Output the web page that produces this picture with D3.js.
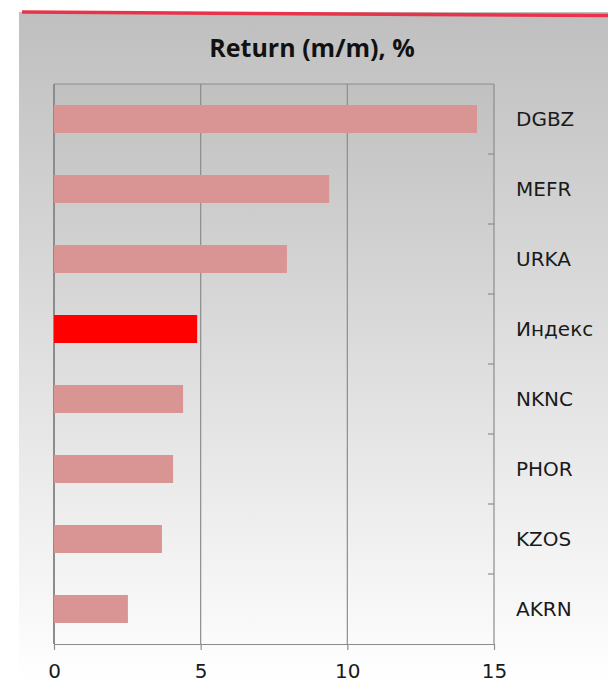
<!DOCTYPE html>
<html>
<head>
<meta charset="utf-8">
<script src="https://cdn.jsdelivr.net/npm/d3@7"></script>
<style>
  html, body { margin: 0; padding: 0; background: #ffffff; }
</style>
</head>
<body>
<div id="chart"></div>
<script>
const categories = ["DGBZ", "MEFR", "URKA", "Индекс", "NKNC", "PHOR", "KZOS", "AKRN"];
const values = [14.42, 9.38, 7.94, 4.88, 4.4, 4.06, 3.68, 2.52];
const highlight = "Индекс";
const xTicks = [0, 5, 10, 15];
const title = "Return (m/m), %";

const width = 608, height = 683;
const margin = {top: 84, right: 114, bottom: 38, left: 54};

const svg = d3.select("#chart").append("svg")
    .attr("width", width)
    .attr("height", height);

const defs = svg.append("defs");
const bg = defs.append("linearGradient")
    .attr("id", "bg-grad")
    .attr("x1", "0%").attr("y1", "0%")
    .attr("x2", "0%").attr("y2", "100%");
bg.append("stop").attr("offset", "0%").attr("stop-color", "#bfbfbf");
bg.append("stop").attr("offset", "100%").attr("stop-color", "#ffffff");

const plotGrad = defs.append("linearGradient")
    .attr("id", "plot-grad")
    .attr("x1", "0%").attr("y1", "0%")
    .attr("x2", "0%").attr("y2", "100%");
plotGrad.append("stop").attr("offset", "0%").attr("stop-color", "#c0c0c0");
plotGrad.append("stop").attr("offset", "100%").attr("stop-color", "#fbfbfb");

// chart background
svg.append("rect")
    .attr("x", 19).attr("y", 12)
    .attr("width", width - 19).attr("height", height - 12)
    .attr("fill", "url(#bg-grad)");

// red accent line on top
svg.append("line")
    .attr("x1", 22).attr("y1", 12)
    .attr("x2", width).attr("y2", 15.5)
    .attr("stroke", "#e8334a")
    .attr("stroke-width", 3.5);

const x = d3.scaleLinear()
    .domain([0, 15])
    .range([margin.left, width - margin.right]);

const y = d3.scaleBand()
    .domain(categories)
    .range([margin.top, height - margin.bottom - 1])
    .paddingInner(0.6)
    .paddingOuter(0.3);

const plotTop = margin.top, plotBottom = height - margin.bottom - 1;

svg.append("rect")
    .attr("x", x(0)).attr("y", plotTop)
    .attr("width", x(15) - x(0)).attr("height", plotBottom - plotTop)
    .attr("fill", "url(#plot-grad)");

// vertical grid lines
svg.append("g")
    .selectAll("line")
    .data(xTicks.slice(1))
    .enter().append("line")
    .attr("x1", d => x(d)).attr("x2", d => x(d))
    .attr("y1", plotTop).attr("y2", plotBottom)
    .attr("stroke", "#8c8c8c")
    .attr("stroke-width", 1.2);

// top border
svg.append("line")
    .attr("x1", x(0)).attr("x2", x(15))
    .attr("y1", plotTop).attr("y2", plotTop)
    .attr("stroke", "#8c8c8c")
    .attr("stroke-width", 1.2);

// left border
svg.append("line")
    .attr("x1", x(0)).attr("x2", x(0))
    .attr("y1", plotTop).attr("y2", plotBottom)
    .attr("stroke", "#8c8c8c")
    .attr("stroke-width", 2);

// right axis with category labels (ticks between bands)
const bandStep = y.step();
const boundaries = d3.range(1, categories.length).map(i => plotTop + i * bandStep);
svg.append("g")
    .selectAll("line")
    .data(boundaries)
    .enter().append("line")
    .attr("x1", x(15) - 6).attr("x2", x(15))
    .attr("y1", d => d).attr("y2", d => d)
    .attr("stroke", "#8c8c8c")
    .attr("stroke-width", 1.2);

svg.append("g")
    .selectAll("text")
    .data(categories)
    .enter().append("text")
    .attr("x", 516)
    .attr("y", d => y(d) + y.bandwidth() / 2)
    .attr("dy", "0.36em")
    .attr("font-family", "DejaVu Sans")
    .attr("font-size", 20)
    .attr("fill", "#1a1a1a")
    .text(d => d);

// bars
svg.append("g")
    .selectAll("rect")
    .data(categories.map((c, i) => ({cat: c, val: values[i]})))
    .enter().append("rect")
    .attr("x", x(0))
    .attr("y", d => y(d.cat))
    .attr("width", d => x(d.val) - x(0))
    .attr("height", y.bandwidth())
    .attr("fill", d => d.cat === highlight ? "#ff0000" : "#d99594");

// bottom axis
const xAxis = svg.append("g")
    .attr("transform", `translate(0,${plotBottom})`)
    .call(d3.axisBottom(x).tickValues(xTicks).tickSize(6).tickPadding(14).tickSizeOuter(0));
xAxis.select(".domain").attr("stroke", "#8c8c8c").attr("stroke-width", 1.2);
xAxis.selectAll(".tick line").attr("stroke", "#8c8c8c").attr("stroke-width", 1.2);
xAxis.selectAll("text")
    .attr("font-family", "DejaVu Sans")
    .attr("font-size", 20)
    .attr("fill", "#1a1a1a");

// title
svg.append("text")
    .attr("x", 312)
    .attr("y", 57)
    .attr("text-anchor", "middle")
    .attr("font-family", "Open Sans")
    .attr("font-weight", "bold")
    .attr("font-size", 25)
    .attr("fill", "#111111")
    .text(title);
</script>
</body>
</html>
